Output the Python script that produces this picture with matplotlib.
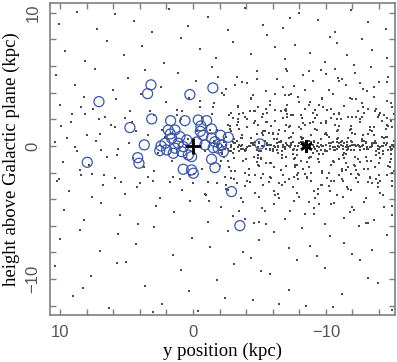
import matplotlib
matplotlib.use("Agg")
import matplotlib.pyplot as plt
from matplotlib.ticker import MultipleLocator, FuncFormatter

# ---- halo / field dots (kpc) ----
band_a_x = [10.1, 8.7, 7.2, 5.9, 4.4, 3.1, 1.8, 0.4, -1.1, -2.6, -3.9, -5.3, -6.8, -8.0, -9.4, -10.7, -11.9, -13.2, -14.5, -7.3]
band_a_y = [9.2, 10.1, 8.8, 9.9, 9.4, 8.6, 10.3, 9.0, 9.7, 8.7, 10.4, 9.1, 8.9, 10.0, 9.5, 8.6, 10.2, 9.3, 8.8, 9.6]
band_b_x = [9.6, 8.1, 6.5, 5.2, 3.8, 2.2, 0.9, -0.5, -1.7, -3.0, -4.4, -5.6, -6.9, -7.7, -8.8, -9.9, -10.8, -11.6, -12.7, -13.5, -14.6, -6.2, -10.3, -12.1]
band_b_y = [7.1, 6.4, 7.9, 6.8, 7.5, 6.2, 8.1, 7.3, 6.6, 7.8, 6.9, 8.3, 6.5, 7.6, 7.0, 6.3, 7.7, 6.8, 8.0, 7.2, 6.6, 7.4, 8.2, 6.1]
band_c_x = [10.3, 8.9, 7.4, 6.0, 4.9, 3.6, 2.4, 1.1, -0.2, -1.4, -2.5, -3.3, -4.1, -4.8, -5.5, -6.3, -7.0, -7.6, -8.3, -9.0, -9.6, -10.2, -10.9, -11.5, -12.2, -12.8, -13.4, -14.0, -14.7, -6.8, -8.7, -11.2, -13.1, -3.7]
band_c_y = [5.3, 4.6, 5.8, 4.2, 5.1, 5.7, 4.4, 5.5, 4.9, 5.9, 4.3, 5.2, 4.7, 5.6, 4.1, 5.0, 5.8, 4.5, 5.3, 4.9, 5.7, 4.2, 5.1, 4.6, 5.5, 4.3, 5.9, 4.8, 5.2, 4.4, 5.6, 5.0, 4.1, 4.8]
band_d_x = [10.0, 9.1, 8.2, 7.5, 6.6, 5.8, 4.7, 3.9, 2.9, 2.0, 1.2, 0.3, -0.7, -1.6, -2.3, -2.9, -3.4, -3.9, -4.4, -4.9, -5.3, -5.8, -6.2, -6.6, -7.1, -7.5, -7.9, -8.4, -8.8, -9.2, -9.7, -10.1, -10.5, -11.0, -11.4, -11.8, -12.3, -12.7, -13.2, -13.6, -14.1, -14.6, -15.0, -4.6, -6.9, -8.1, -9.5, -10.8, -12.0, -13.9]
band_d_y = [3.1, 2.4, 3.7, 2.8, 2.2, 3.5, 2.6, 3.9, 2.3, 3.3, 2.7, 3.6, 2.1, 3.2, 3.8, 2.5, 3.0, 2.2, 3.6, 2.9, 2.4, 3.4, 3.9, 2.6, 3.1, 2.3, 3.7, 2.8, 3.3, 2.1, 3.5, 2.7, 3.9, 2.4, 3.0, 3.6, 2.2, 3.2, 2.8, 3.7, 2.5, 3.4, 2.9, 2.6, 3.8, 2.3, 3.1, 2.0, 3.5, 2.2]
band_f_x = [10.2, 9.3, 8.4, 7.6, 6.8, 5.9, 5.1, 4.2, 3.4, 2.5, 1.7, 0.8, -0.1, -1.0, -1.8, -2.5, -3.1, -3.6, -4.2, -4.7, -5.3, -5.8, -6.4, -6.9, -7.5, -8.0, -8.6, -9.1, -9.7, -10.2, -10.8, -11.3, -11.9, -12.4, -13.0, -13.5, -14.1, -14.6, -15.0, -7.2, -9.4, -11.6, -13.3, -5.0]
band_f_y = [-2.6, -3.4, -2.2, -3.8, -2.9, -2.4, -3.6, -3.1, -2.3, -3.9, -2.7, -3.3, -2.1, -3.7, -2.8, -3.2, -2.5, -3.9, -2.2, -3.5, -2.9, -2.3, -3.6, -2.7, -3.1, -3.8, -2.4, -3.4, -2.0, -3.0, -3.7, -2.6, -3.3, -2.1, -3.9, -2.8, -3.5, -2.2, -3.0, -2.5, -3.6, -3.1, -2.4, -3.8]
band_g_x = [9.7, 8.2, 6.9, 5.5, 4.1, 2.8, 1.4, 0.2, -1.1, -2.1, -3.0, -3.8, -4.6, -5.4, -6.1, -6.9, -7.6, -8.4, -9.1, -9.9, -10.6, -11.4, -12.1, -12.9, -13.6, -14.4, -15.0, -5.0, -7.3, -9.5, -11.8, -13.2]
band_g_y = [-4.8, -5.6, -4.3, -5.2, -5.9, -4.5, -5.0, -4.1, -5.7, -4.6, -5.3, -4.2, -5.8, -4.9, -4.4, -5.5, -4.1, -5.1, -4.7, -5.9, -4.3, -5.4, -4.8, -4.2, -5.6, -4.6, -5.2, -5.7, -4.9, -4.4, -5.0, -5.8]
band_h_x = [10.0, 8.5, 7.0, 5.6, 4.3, 2.9, 1.5, 0.1, -1.3, -2.6, -3.8, -5.0, -6.1, -7.2, -8.2, -9.3, -10.3, -11.4, -12.5, -13.5, -14.6, -4.4, -8.8, -12.0]
band_h_y = [-7.0, -6.3, -7.9, -6.6, -7.4, -6.1, -8.2, -6.9, -7.6, -6.4, -8.0, -7.1, -6.5, -7.7, -6.2, -8.3, -6.8, -7.3, -6.0, -7.8, -6.7, -8.4, -7.5, -8.1]
band_i_x = [10.4, 9.0, 7.7, 6.3, 5.0, 3.6, 2.3, 0.9, -0.4, -1.8, -3.1, -4.5, -5.8, -7.2, -8.5, -9.9, -11.2, -12.6, -13.9, -15.0, 8.3, 5.7, 3.0, 0.3, -2.4, -5.1, -7.8, -10.5, -13.2, -6.5]
band_i_y = [-9.0, -11.3, -9.8, -12.2, -8.7, -10.5, -11.9, -9.3, -12.4, -10.1, -8.9, -11.6, -9.6, -10.8, -12.0, -9.2, -11.1, -8.6, -10.3, -12.3, -10.7, -8.8, -12.5, -10.9, -11.4, -9.4, -8.6, -12.1, -9.9, -11.9]

# ---- thick disk (3 < |z| < 6, right side) ----
thick_x = [-0.5, -1.2, -1.9, -2.6, -3.2, -3.9, -4.5, -5.2, -5.8, -6.5, -7.1, -7.8, -8.4, -9.1, -9.7, -10.4, -11.0, -11.7, -12.3, -13.0, -13.6, -14.3, -14.9, -0.9, -2.2, -3.5, -4.8, -6.1, -7.4, -8.7, -10.0, -11.3, -12.6, -13.9, -15.0, -5.5, -8.0, -10.7, -12.0, -14.6]
thick_y = [3.4, -4.1, 5.2, -3.3, 4.6, -5.5, 3.8, -4.7, 3.1, -3.9, 5.6, -3.5, 4.2, -5.1, 3.6, -4.4, 4.9, -3.2, 3.5, -5.8, 4.4, -3.7, 3.2, -3.6, 4.0, -4.9, 5.0, -3.4, 3.9, -4.2, 5.4, -3.8, 4.7, -3.1, -4.5, -5.9, 3.3, 5.8, -4.6, 4.8]

# ---- disk (|z| < 3, right side) ----
disk_x = [
    -1.8, -2.3, -2.7, -3.2, -3.6, -4.1, -4.6, -5.0, -5.5, -5.9, -6.4, -6.8, -7.3, -7.8, -8.2, -8.7, -9.1, -9.6, -10.0, -10.5, -11.0, -11.4, -11.9, -12.3, -12.8, -13.2, -13.7, -14.1, -14.6, -15.0,
    -2.0, -2.5, -2.9, -3.4, -3.9, -4.3, -4.8, -5.2, -5.7, -6.1, -6.6, -7.1, -7.5, -8.0, -8.4, -8.9, -9.4, -9.8, -10.3, -10.7, -11.2, -11.6, -12.1, -12.6, -13.0, -13.5, -13.9, -14.4, -14.8, -15.1,
    -1.6, -2.1, -2.6, -3.0, -3.5, -3.9, -4.4, -4.9, -5.3, -5.8, -6.2, -6.7, -7.2, -7.6, -8.1, -8.5, -9.0, -9.5, -9.9, -10.4, -10.8, -11.3, -11.7, -12.2, -12.7, -13.1, -13.6, -14.0, -14.5, -14.9,
    -2.2, -2.8, -3.3, -3.7, -4.2, -4.7, -5.1, -5.6, -6.0, -6.5, -7.0, -7.4, -7.9, -8.3, -8.8, -9.3, -9.7, -10.2, -10.6, -11.1, -11.5, -12.0, -12.5, -12.9, -13.4, -13.8, -14.3, -14.7, -15.1, -9.0,
    -2.4, -2.9, -3.5, -4.0, -4.5, -4.9, -5.4, -5.8, -6.3, -6.8, -7.2, -7.7, -8.1, -8.6, -9.1, -9.5, -10.0, -10.4, -10.9, -11.3, -11.8, -12.2, -12.7, -13.1, -13.6, -14.0, -14.5, -14.9, -3.1, -6.0,
    -2.6, -3.1, -3.6, -4.1, -4.6, -5.0, -5.5, -6.0, -6.4, -6.9, -7.3, -7.8, -8.3, -8.7, -9.2, -9.6, -10.1, -10.6, -11.0, -11.5, -11.9, -12.4, -12.8, -13.3, -13.8, -14.2, -14.7, -15.1, -7.0, -11.7,
    -1.5, -2.4, -3.3, -4.3, -5.2, -6.1, -7.0, -7.9, -8.8, -9.7, -10.6, -11.5, -12.4, -13.3, -14.2, -15.0, -2.9, -3.8, -4.7, -5.6, -6.5, -7.4, -8.3, -9.2, -10.1, -11.0, -11.9, -12.8, -13.7, -14.6,
    -1.9, -2.7, -3.4, -4.0, -4.8, -5.3, -5.9, -6.7, -7.1, -7.6, -8.2, -8.9, -9.3, -9.9, -10.4, -11.2, -11.7, -12.1, -12.6, -13.2, -13.5, -14.0, -14.4, -14.9, -5.1, -6.2, -8.6, -10.8, -12.9, -15.0,
    -2.1, -3.0, -3.8, -4.4, -5.1, -5.7, -6.4, -7.0, -7.7, -8.3, -8.9, -9.6, -10.2, -10.8, -11.4, -12.0, -12.6, -13.2, -13.8, -14.4, -15.0, -4.9, -6.7, -8.5, -10.4, -12.3, -14.1, -3.5, -7.4, -11.0,
    -3.7, -11.2, -6.9, -14.3, -2.8, -9.4, -5.6, -12.7, -8.1, -4.4, -13.8, -7.5, -10.6, -3.1, -14.9, -6.2, -11.9, -9.0, -5.0, -12.2, -2.5, -8.7, -13.1, -4.9, -10.0, -7.8, -14.6, -3.4, -11.5, -6.6,
    -9.8, -4.1, -12.9, -7.2, -2.2, -10.9, -5.9, -13.5, -8.4, -3.9, -14.0, -6.0, -11.0, -9.6, -4.7, -12.4, -7.0, -2.9, -10.3, -5.3, -13.3, -8.9, -3.6, -14.8, -6.8, -11.7, -9.2, -5.5, -12.0, -7.7,
]
disk_y = [
    1.2, -0.8, 2.3, -1.9, 0.6, -2.6, 1.7, -0.4, 2.8, -1.3, 0.9, -2.2, 1.5, -0.7, 2.1, -1.6, 0.4, -2.9, 1.9, -1.1, 2.5, -0.5, 1.3, -2.4, 0.8, -1.7, 2.6, -0.9, 1.6, -2.0,
    -1.5, 0.7, -2.4, 1.8, -0.3, 2.6, -1.2, 1.0, -2.7, 0.5, -1.8, 2.2, -0.6, 1.4, -2.1, 0.8, -1.0, 2.9, -0.2, 1.6, -2.5, 0.3, -1.4, 2.0, -0.8, 1.1, -2.8, 0.6, -1.6, 2.4,
    0.4, -1.1, 1.6, -0.5, 2.4, -2.0, 0.2, -1.4, 1.1, -0.3, 2.7, -0.9, 0.6, -2.3, 1.3, -0.1, 1.8, -1.2, 0.9, -2.6, 0.3, -0.7, 2.2, -1.5, 0.5, -0.2, 1.4, -2.2, 0.7, -1.0,
    -0.6, 1.3, -2.8, 0.8, -1.7, 1.9, -0.9, 2.5, -0.4, 1.2, -1.5, 0.1, -2.5, 1.7, -0.8, 2.3, -1.9, 0.7, -0.3, 2.0, -1.3, 1.0, -2.2, 0.4, -1.1, 2.8, -0.6, 1.5, -1.9, -0.5,
    0.9, -0.4, 1.3, -1.0, 0.2, -0.7, 1.1, -1.3, 0.5, -0.1, 1.4, -0.9, 0.7, -1.2, 0.3, -0.6, 1.0, -1.4, 0.6, -0.2, 1.2, -0.8, 0.4, -1.1, 0.8, -0.5, 1.3, -0.3, -0.9, 1.0,
    -1.1, 0.5, -0.2, 1.4, -0.8, 0.3, -1.3, 0.9, -0.5, 1.1, -0.1, -1.4, 0.6, -0.9, 1.3, -0.3, 0.8, -1.2, 0.2, -0.6, 1.5, -1.0, 0.1, 1.2, -0.4, 0.7, -1.5, 0.4, 1.6, -1.6,
    2.9, -2.3, 1.6, -2.7, 2.2, -1.6, 2.8, -2.0, 1.7, -2.9, 2.4, -1.8, 2.6, -2.3, 1.9, -2.6, -1.9, 2.5, -2.2, 1.8, -2.8, 2.3, -1.7, 2.7, -2.4, 1.5, -2.1, 2.9, -1.6, 2.1,
    0.1, -1.6, 2.0, -0.2, 0.9, -2.1, 1.5, -0.7, 2.4, -1.0, 0.5, -2.6, 1.2, -0.4, 2.1, -1.7, 0.6, -0.3, 1.8, -2.7, 0.2, -1.3, 2.3, -0.6, -1.0, 1.9, -2.3, 1.1, 2.5, -0.2,
    -0.3, 2.1, -1.1, 0.6, -2.4, 1.0, -0.1, 2.6, -1.4, 0.3, -0.8, 1.7, -2.0, 0.5, -0.9, 2.2, -1.2, 0.9, -2.5, 0.2, 1.4, 1.6, -2.9, 0.0, 2.8, -1.8, -2.6, -0.4, 0.7, -2.2,
    0.6, -1.9, 2.7, -0.4, 1.5, -3.2, 0.2, 2.2, -1.1, 3.5, -0.7, 1.0, -2.6, -0.2, 1.9, -3.7, 0.4, 2.5, -1.5, 0.9, -2.9, 3.1, -0.1, -0.9, 1.7, -2.2, 0.7, 2.9, -1.3, 0.3,
    -0.6, 2.0, -1.7, 3.8, -0.5, 1.2, -2.4, 0.1, 1.6, -3.0, 2.3, -0.3, -1.0, 0.5, 2.6, -2.7, -0.8, 1.1, -3.4, 0.8, 1.4, -2.0, 0.0, -1.2, 2.1, -0.2, -3.9, 1.8, 0.3, -1.6,
]

# ---- thin plane (|z| < 0.5) ----
thin_x = [
    -1.6, -2.0, -2.5, -2.9, -3.3, -3.8, -4.2, -4.7, -5.1, -5.6, -6.0, -6.5, -6.9, -7.4, -7.8, -8.3, -8.7, -9.2, -9.6, -10.1, -10.5, -11.0, -11.4, -11.9, -12.3, -12.8, -13.2, -13.7, -14.1, -14.6,
    -1.8, -2.3, -2.7, -3.1, -3.6, -4.0, -4.5, -4.9, -5.4, -5.8, -6.3, -6.7, -7.2, -7.6, -8.1, -8.5, -9.0, -9.4, -9.9, -10.3, -10.8, -11.2, -11.7, -12.1, -12.6, -13.0, -13.5, -13.9, -14.4, -14.8,
    -2.2, -2.6, -3.0, -3.5, -3.9, -4.4, -4.8, -5.3, -5.7, -6.2, -6.6, -7.1, -7.5, -8.0, -8.4, -8.9, -9.3, -9.8, -10.2, -10.7, -11.1, -11.6, -12.0, -12.5, -12.9, -13.4, -13.8, -14.3, -14.7, -15.1,
    -2.9, -3.4, -4.3, -5.0, -5.5, -6.1, -6.8, -7.3, -7.9, -8.6, -9.1, -9.7, -10.4, -10.9, -11.5, -12.2, -12.7, -13.3, -13.6, -14.2, -14.9, -15.0, -8.8, -9.5, -10.0, -11.3, -12.4, -13.1, -6.4, -4.6,
    -2.4, -3.7, -4.1, -5.2, -5.9, -6.3, -7.0, -7.7, -8.2, -9.0, -9.8, -10.5, -11.1, -11.8, -12.6, -13.0, -13.9, -14.5, -15.1, -14.0, -12.0, -10.7, -8.4, -7.5, -6.9, -5.6, -4.8, -3.2, -9.3, -11.6,
]
thin_y = [
    0.2, -0.3, 0.1, -0.1, 0.4, -0.2, 0.0, 0.3, -0.4, 0.1, -0.2, 0.3, -0.1, 0.2, -0.3, 0.0, 0.4, -0.2, 0.1, -0.4, 0.3, -0.1, 0.2, -0.3, 0.0, 0.1, -0.2, 0.4, -0.1, 0.2,
    -0.1, 0.3, -0.4, 0.2, 0.0, -0.3, 0.1, -0.1, 0.4, -0.2, 0.2, -0.4, 0.0, -0.2, 0.3, -0.1, 0.1, 0.2, -0.3, 0.0, -0.2, 0.4, -0.1, 0.1, -0.3, 0.3, 0.0, -0.2, 0.2, -0.1,
    0.0, -0.2, 0.3, 0.1, -0.4, 0.2, -0.3, 0.0, 0.1, -0.1, 0.4, 0.1, -0.3, 0.2, -0.1, 0.3, -0.4, 0.0, 0.2, -0.1, 0.1, -0.3, 0.3, 0.0, -0.2, -0.1, 0.2, 0.0, -0.3, 0.1,
    0.1, -0.1, 0.0, 0.2, -0.2, 0.0, 0.1, -0.1, 0.0, 0.1, -0.1, 0.0, 0.2, 0.0, -0.1, 0.1, 0.0, -0.1, 0.2, 0.0, -0.2, 0.1, 0.0, -0.1, 0.1, 0.0, 0.1, -0.1, 0.0, 0.1,
    -0.2, 0.1, -0.1, 0.0, 0.1, -0.3, 0.2, 0.0, -0.2, 0.1, 0.0, -0.1, 0.3, 0.0, -0.1, 0.2, 0.0, 0.1, -0.1, -0.2, 0.1, -0.3, 0.2, 0.3, -0.2, 0.1, -0.3, 0.2, 0.0, 0.1,
]

# ---- left side near the plane and centre ----
left_x = [10.4, 9.8, 9.2, 8.7, 8.1, 7.6, 7.0, 6.5, 5.9, 5.4, 4.8, 4.3, 3.7, 3.2, 2.6, 2.1, 1.5, 1.0, 10.1, 9.5, 8.9, 8.4, 7.8, 7.3, 6.7, 6.2, 5.6, 5.1, 4.5, 4.0, 3.4, 2.9, 2.3, 1.8, 1.2, 9.9, 8.5, 7.1, 5.7, 4.6, 3.0, 2.5, 1.6, 6.9, 8.0,
          0.8, 0.2, -0.5, -1.1, 0.6, -0.3, -0.9, 1.0, 0.0, -1.4, 0.4, -0.7, -1.3, 0.9, -0.1]
left_y = [0.3, -1.2, 1.8, -0.4, 2.4, -2.1, 0.9, -0.8, 1.4, -2.7, 0.2, 1.1, -1.6, 2.6, -0.5, 0.7, -2.3, 1.9, -2.5, 0.6, -0.1, 2.9, -1.4, 0.4, -2.2, 1.6, -0.2, 2.1, -0.9, -2.8, 0.8, -1.9, 1.2, -0.6, 2.3, 1.5, -1.8, 2.0, -0.7, 1.8, -2.6, 0.1, -1.1, -0.3, 0.8,
          2.6, -2.2, 2.9, -2.7, -0.9, 1.1, -0.4, -2.5, -2.8, 2.4, 0.5, -1.7, 1.2, 2.0, -0.6]

# ---- blue open circles ----
circ_x = [7.07, 3.16, 3.41, 0.23, -1.5, 3.1, 4.74, 1.68, 0.6, -0.4, -1.03, -0.6, -0.55, -0.75, -1.4, 1.86, 1.35, -2.66, -2.08, -1.65,
          -0.9, -1.53, -2.16, 2.1, 1.6, 0.98, 1.98, 1.35, 0.73, 1.48, 0.85, 0.47, 0.35, 0.1, -1.4, -1.65, 0.73, 0.1, -0.03, -2.28,
          3.66, 4.16, 4.06, 7.95, -5.04, -2.9, -3.53, -1.4, 2.4, 1.1, -0.3, -1.9, 1.7, 2.5]
circ_y = [3.33, 4.59, 3.93, 3.86, 4.36, 2.03, 1.38, 1.9, 1.9, 1.95, 1.9, 1.5, 1.1, 0.8, 1.28, 1.2, 1.2, 0.65, 0.8, 0.32,
          0.08, -0.13, 0.08, 0.2, 0.58, 0.7, -0.3, -0.17, -0.05, -0.55, -0.43, 0.45, -0.68, -0.8, -1.0, -1.63, -1.75, -1.8, -2.05, -0.43,
          0.08, -0.88, -1.3, -1.23, 0.15, -3.43, -5.99, 0.6, 0.0, 0.2, 0.3, -0.17, 0.9, -0.35]

sun_x, sun_y = [0.0], [0.0]
gc_x, gc_y = [-8.5], [0.0]

plt.rcParams['font.family'] = ['Liberation Serif', 'DejaVu Serif']
fig = plt.figure(figsize=(3.97, 3.62), dpi=100)
ax = fig.add_axes([0.126, 0.130, 0.869, 0.862])

dot_sets = [(band_a_x, band_a_y), (band_b_x, band_b_y), (band_c_x, band_c_y), (band_d_x, band_d_y),
            (band_f_x, band_f_y), (band_g_x, band_g_y), (band_h_x, band_h_y), (band_i_x, band_i_y),
            (thick_x, thick_y), (disk_x, disk_y), (thin_x, thin_y), (left_x, left_y)]
for xs, ys in dot_sets:
    ax.scatter(xs, ys, s=0.9, marker='s', color='#4a4a4a', linewidths=0, zorder=2)

ax.scatter(circ_x, circ_y, s=52, facecolors='none', edgecolors='#3a57a7', linewidths=0.9, zorder=3)
ax.plot(sun_x, sun_y, marker='+', color='black', markersize=12, mew=2.0, ls='none', zorder=4)
ax.plot(gc_x, gc_y, marker=(6, 2, 0), color='black', markersize=9, mew=1.8, ls='none', zorder=4)

ax.set_xlim(10.75, -15.2)
ax.set_ylim(-12.7, 10.75)

for sp in ax.spines.values():
    sp.set_color('#7f7f7f')
    sp.set_linewidth(1.2)

ax.xaxis.set_major_locator(MultipleLocator(2))
ax.yaxis.set_major_locator(MultipleLocator(2))

def fmt(v, pos):
    r = round(v)
    if abs(v - r) < 1e-6 and r % 10 == 0:
        return '\u2212%d' % abs(r) if r < 0 else '%d' % r
    return ''

ax.xaxis.set_major_formatter(FuncFormatter(fmt))
ax.yaxis.set_major_formatter(FuncFormatter(fmt))
ax.tick_params(direction='in', length=4, width=1.0, color='#7f7f7f', top=True, right=True,
               labelsize=12, labelcolor='#555555', pad=7)
for lab in ax.get_xticklabels() + ax.get_yticklabels():
    lab.set_family(['Liberation Sans', 'DejaVu Sans'])
for lab in ax.get_yticklabels():
    lab.set_rotation(90)
    lab.set_va('center')

ax.set_xlabel('y position (kpc)', fontsize=13.5, labelpad=2)
ax.set_ylabel('height above Galactic plane (kpc)', fontsize=13.5, labelpad=4)

fig.savefig('out.png', dpi=100)
